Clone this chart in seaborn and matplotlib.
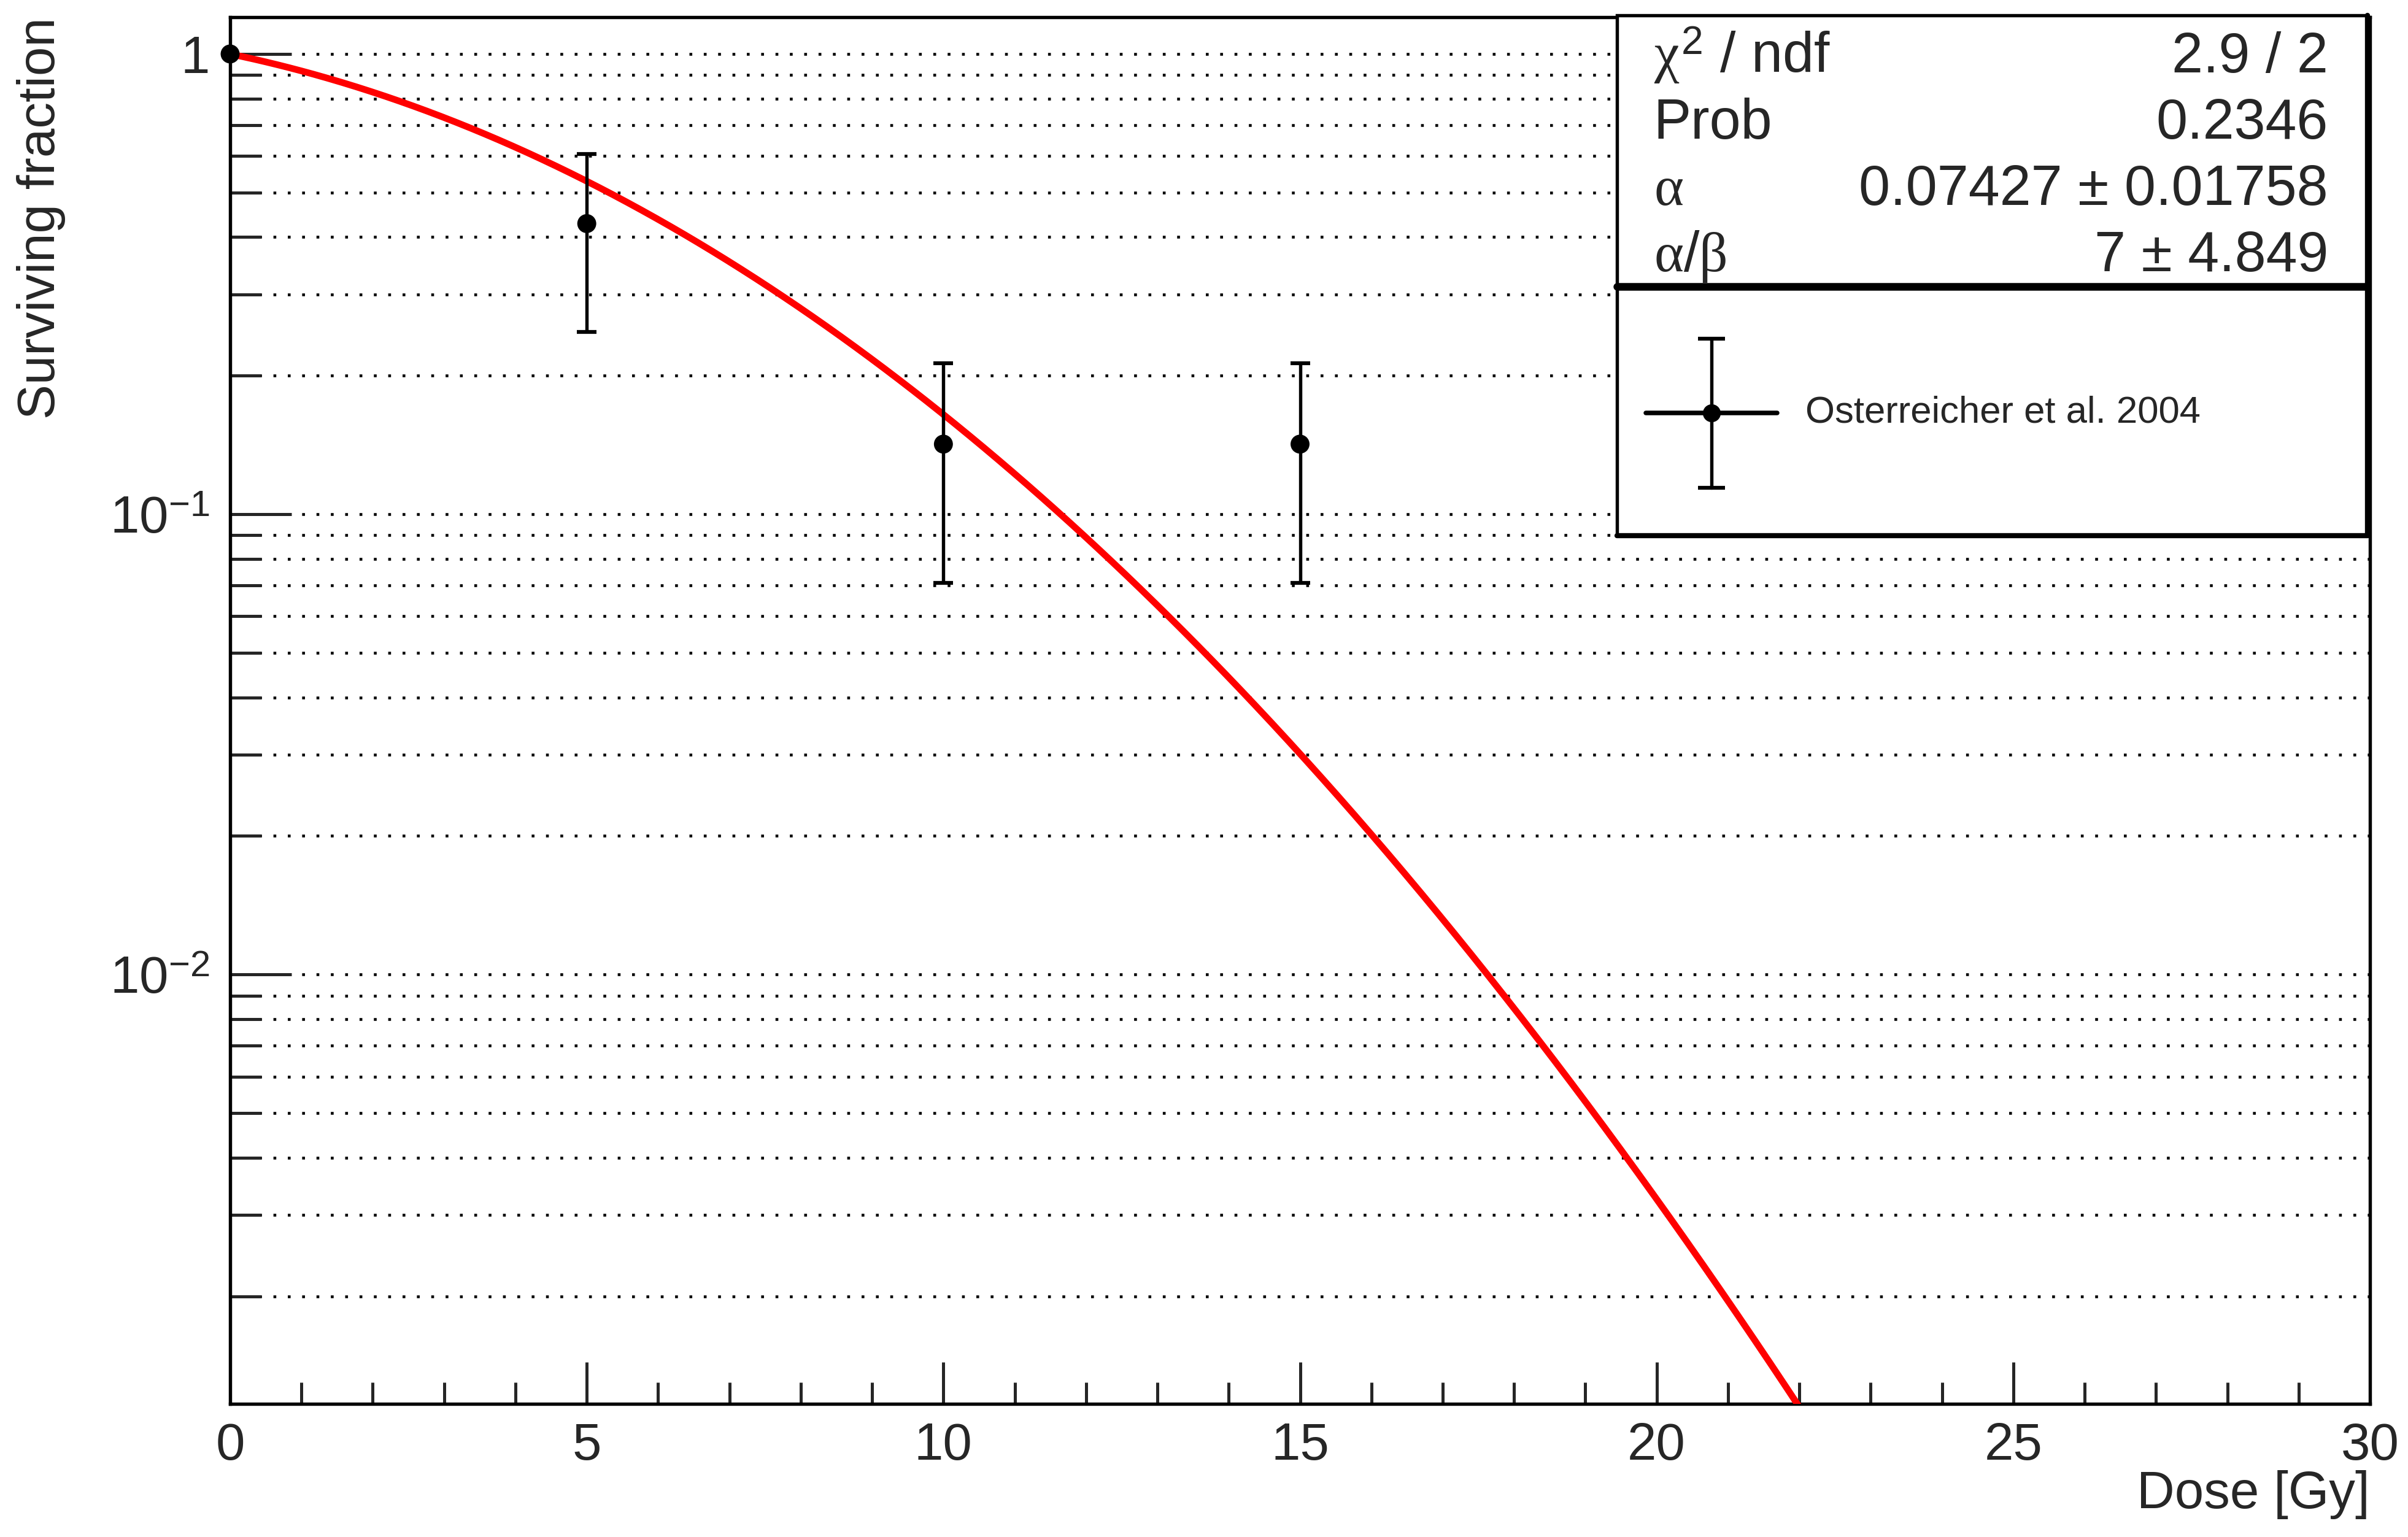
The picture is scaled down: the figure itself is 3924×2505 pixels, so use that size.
import numpy as np
import pandas as pd
import matplotlib
matplotlib.use('Agg')
import matplotlib.pyplot as plt
import seaborn as sns
from matplotlib.lines import Line2D
from matplotlib.patches import Rectangle
from matplotlib.ticker import LogLocator, MultipleLocator, NullFormatter

dose = [0, 5, 10, 15]
surv = [1.0, 0.428, 0.142, 0.142]
err_lo = [0.0, 0.179, 0.071, 0.071]
err_hi = [0.0, 0.178, 0.071, 0.071]

# LQ fit result as printed in the stats box
alpha = 0.07427
alpha_beta = 7.0
stats_names = [r'$\chi^{2}$ / ndf', 'Prob', r'$\alpha$', r'$\alpha/\beta$']
stats_vals = ['2.9 / 2', '0.2346', '0.07427 ± 0.01758', '7 ± 4.849']
legend_label = 'Osterreicher et al. 2004'

y_ticks = [0.01, 0.1, 1]
y_ticklabels = [r'$10^{-2}$', r'$10^{-1}$', '1']

sns.set_style('ticks')
plt.rcParams['font.family'] = ['Liberation Sans', 'DejaVu Sans']
plt.rcParams['mathtext.fontset'] = 'custom'
plt.rcParams['mathtext.rm'] = 'Liberation Sans'
plt.rcParams['mathtext.it'] = 'Liberation Serif'
plt.rcParams['mathtext.bf'] = 'Liberation Sans:bold'

pts = pd.DataFrame({'dose': dose, 'sf': surv})
beta = alpha / alpha_beta
d = np.linspace(0, 30, 901)
fit = pd.DataFrame({'dose': d, 'sf': np.exp(-alpha * d - beta * d ** 2)})

W, H = 3924, 2505
fig = plt.figure(figsize=(W / 300, H / 300), dpi=300)
ax = fig.add_axes([375 / W, 1 - 2288 / H, (3862 - 375) / W, (2288 - 28) / H])

# fit curve + data
sns.lineplot(data=fit, x='dose', y='sf', color='red', lw=2.6, ax=ax, errorbar=None, zorder=3)
ax.errorbar(dose[1:], surv[1:], yerr=[err_lo[1:], err_hi[1:]], fmt='none', ecolor='black',
            elinewidth=1.3, capsize=3.8, capthick=1.5, zorder=4)
sns.scatterplot(data=pts, x='dose', y='sf', color='black', s=55, edgecolor='none',
                ax=ax, zorder=5, clip_on=False)

ax.set_yscale('log')
ax.set_xlim(0, 30)
ax.set_ylim(0.001167, 1.202)
ax.set_yticks(y_ticks, labels=y_ticklabels)
ax.yaxis.set_minor_locator(LogLocator(base=10, subs=np.arange(2, 10) * 1.0, numticks=20))
ax.yaxis.set_minor_formatter(NullFormatter())
ax.xaxis.set_major_locator(MultipleLocator(5))
ax.xaxis.set_minor_locator(MultipleLocator(1))

ax.yaxis.grid(True, which='both', color='black', lw=1.1, linestyle=(0, (1, 4.1)))
ax.xaxis.grid(False)

ax.tick_params(axis='y', which='major', direction='in', length=24, width=1.2, pad=8, labelsize=20.5)
ax.tick_params(axis='y', which='minor', direction='in', length=12, width=1.2)
ax.tick_params(axis='x', which='major', direction='in', length=16.3, width=1.2, pad=7, labelsize=20.5)
ax.tick_params(axis='x', which='minor', direction='in', length=8.4, width=1.2)
ax.tick_params(top=False, right=False, which='both')
for s in ax.spines.values():
    s.set_linewidth(1.3)
    s.set_color('black')

ax.set_xlabel('Dose [Gy]', fontsize=20.5, ha='right')
ax.xaxis.set_label_coords(1.0, -0.048)
ax.set_ylabel('Surviving fraction', fontsize=20.5, ha='right')
ax.yaxis.set_label_coords(-0.077, 1.0)

# stats box and legend box (figure coords)
x0, x1 = 2635 / W, 3858 / W
y_top, y_mid, y_bot = 1 - 25 / H, 1 - 467 / H, 1 - 873 / H
fig.add_artist(Rectangle((x0, y_mid), x1 - x0, y_top - y_mid, transform=fig.transFigure,
                         facecolor='white', edgecolor='black', lw=1.3, zorder=10))
fig.add_artist(Rectangle((x0, y_bot), x1 - x0, y_mid - y_bot, transform=fig.transFigure,
                         facecolor='white', edgecolor='black', lw=1.3, zorder=10))
fig.add_artist(Line2D([x0, x1], [y_mid, y_mid], transform=fig.transFigure, color='black', lw=3, zorder=11))
fig.add_artist(Line2D([x0, x1], [y_bot, y_bot], transform=fig.transFigure, color='black', lw=2, zorder=11))
fig.add_artist(Line2D([x1, x1], [y_bot, y_top], transform=fig.transFigure, color='black', lw=2, zorder=11))

row_y = [118, 226, 334, 442]
for name, val, ry in zip(stats_names, stats_vals, row_y):
    fig.text(2695 / W, 1 - ry / H, name, fontsize=22, ha='left', va='baseline', zorder=12)
    fig.text(3794 / W, 1 - ry / H, val, fontsize=22, ha='right', va='baseline', zorder=12)

# legend entry
lx, ly = 2789 / W, 1 - 673 / H
fig.add_artist(Line2D([2682 / W, 2896 / W], [ly, ly], transform=fig.transFigure, color='black', lw=1.8, zorder=12))
fig.add_artist(Line2D([lx, lx], [1 - 552 / H, 1 - 795 / H], transform=fig.transFigure, color='black', lw=1.3, zorder=12))
fig.add_artist(Line2D([lx, lx], [1 - 552 / H, 1 - 795 / H], transform=fig.transFigure, color='black', lw=0,
                      marker='_', markersize=10.5, markeredgewidth=1.5, zorder=12))
fig.add_artist(Line2D([lx], [ly], transform=fig.transFigure, color='black', marker='o', markersize=7,
                      markeredgewidth=0, lw=0, zorder=13))
fig.text(2942 / W, ly, legend_label, fontsize=14.8, ha='left', va='center', zorder=12)

fig.savefig('out.png', dpi=300)
